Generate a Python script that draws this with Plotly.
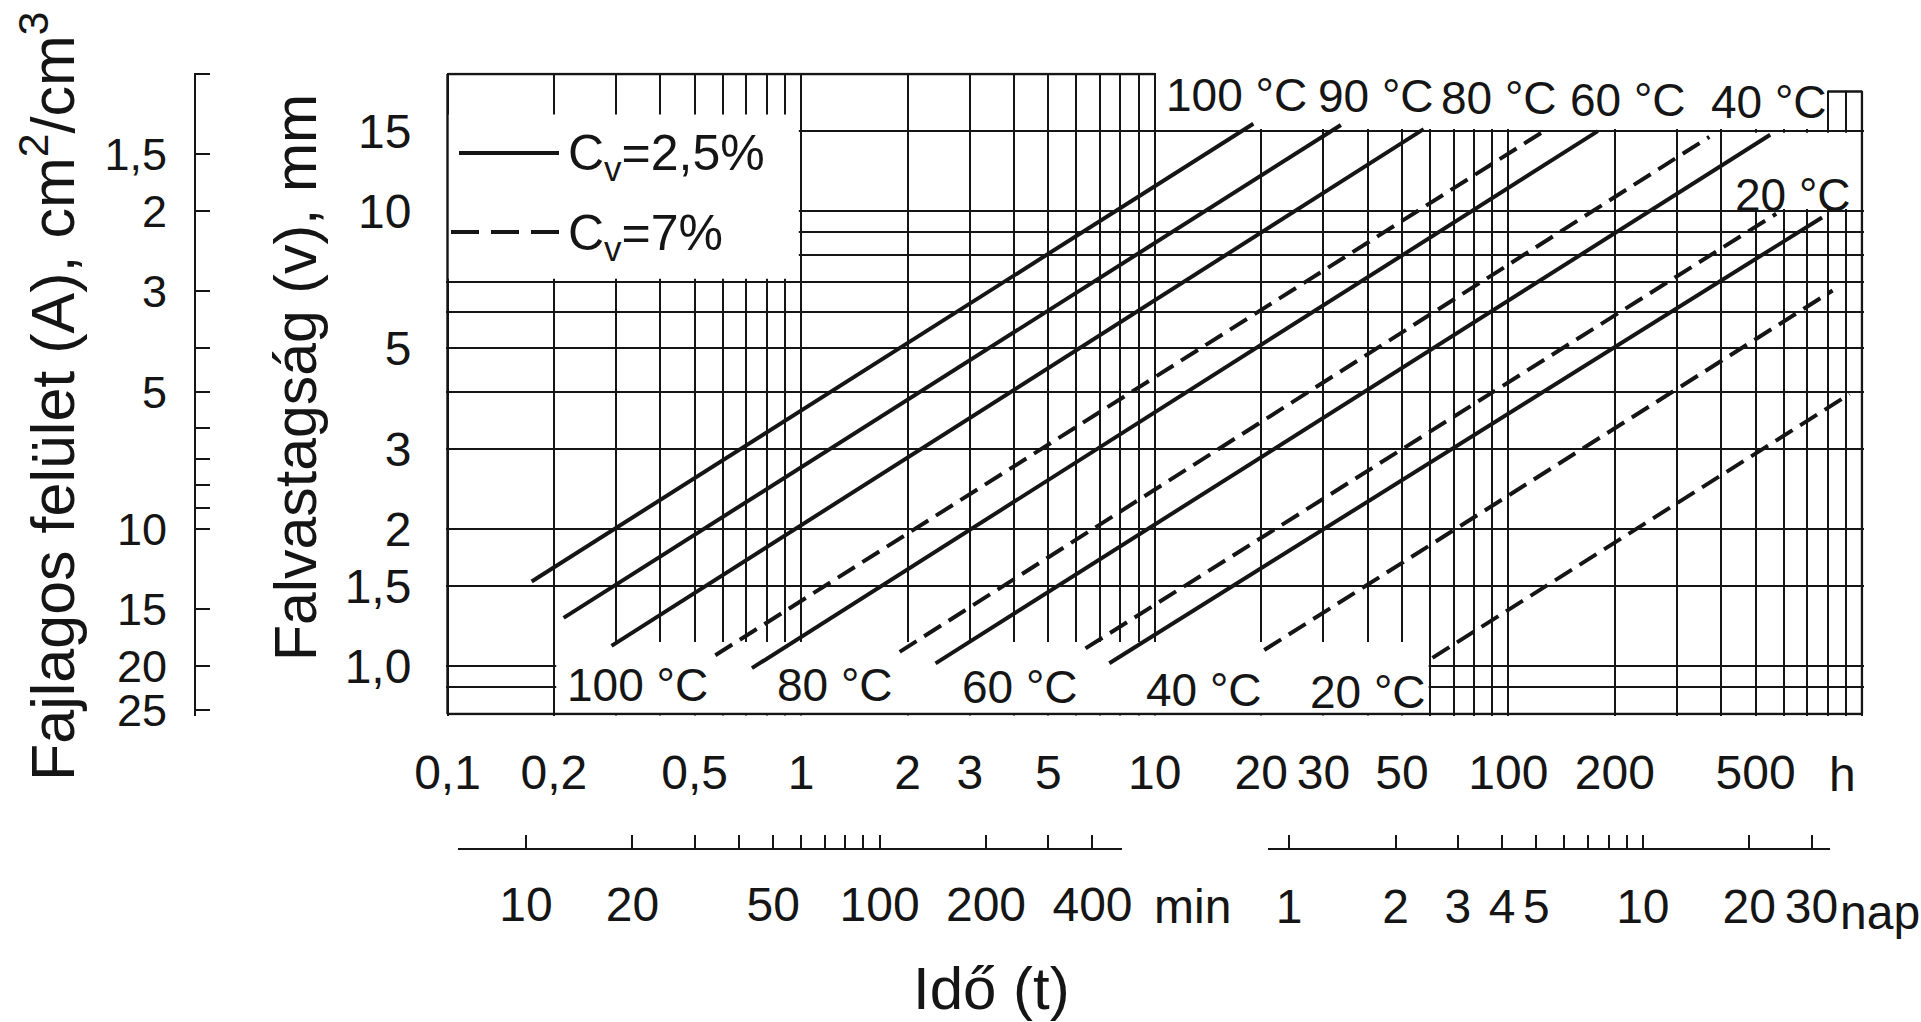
import numpy as np
import plotly.graph_objects as go

# ---------------------------------------------------------------- data
# Wall thickness v (mm) reached after time t (h).  On log-log paper every
# curve is a straight segment, given here by its two end points.
temps_cv25 = ["100 °C", "90 °C", "80 °C", "60 °C", "40 °C", "20 °C"]
t0_cv25 = [0.173, 0.213, 0.291, 0.726, 2.40, 7.44]
t1_cv25 = [19.0, 33.6, 57.6, 179.0, 550.0, 771.0]
v0_cv25 = [1.535, 1.277, 1.108, 0.990, 1.014, 1.015]
v1_cv25 = [15.55, 15.45, 15.13, 14.98, 14.71, 9.68]

temps_cv7 = ["100 °C", "80 °C", "60 °C", "40 °C", "20 °C"]
t0_cv7 = [0.572, 1.90, 6.37, 20.4, 61.0]
t1_cv7 = [128.8, 370.0, 572.0, 826.0, 922.0]
v0_cv7 = [1.057, 1.075, 1.094, 1.085, 1.043]
v1_cv7 = [15.14, 14.55, 9.86, 6.69, 3.96]

# time axis (hours)
t_major = [0.1, 0.2, 0.5, 1, 2, 3, 5, 10, 20, 30, 50, 100, 200, 500]
t_major_text = ["0,1", "0,2", "0,5", "1", "2", "3", "5", "10", "20", "30",
                "50", "100", "200", "500"]
# thickness axis (mm)
v_major = [1.0, 1.5, 2, 3, 5, 10, 15]
v_major_text = ["1,0", "1,5", "2", "3", "5", "10", "15"]
v_minor = [0.9, 4, 6, 7, 8, 9]
# specific surface axis (cm2/cm3)
a_major = [1.5, 2, 3, 5, 10, 15, 20, 25]
a_major_text = ["1,5", "2", "3", "5", "10", "15", "20", "25"]
a_minor = [1, 4, 6, 7, 8, 9]
# auxiliary time scales
min_major = [10, 20, 50, 100, 200, 400]
min_minor = [30, 40, 60, 70, 80, 90, 300]
nap_major = [1, 2, 3, 4, 5, 10, 20, 30]
nap_minor = [6, 7, 8, 9]

# ---------------------------------------------------------------- geometry
W, H = 1921, 1022          # design canvas; the page fills the window
FRAME_L, FRAME_R, FRAME_T, FRAME_B = 447.5, 1862.0, 74.0, 714.0
T_LO, T_HI = 0.1, 1000.0
V_LO, V_HI = 0.785, 20.0
PAD = 1.5
A_TIMES_V = 20.0          # A (cm2/cm3) * v (mm) for a plate wall
BOX_TOP = 18.3            # small grid tab in the upper right corner
TOP_STEP_T = 10.0         # upper frame runs from T_LO to here

INK = "#151515"
CLEAR = "rgba(0,0,0,0)"
FONT = "Liberation Sans, Arial, sans-serif"
GRID_W = 1.5
LINE_W = 4.0
FRAME_W = 2.4
DASH = "20px,9px"

TICK_SIZE = 48
A_TICK_SIZE = 45
SCALE_SIZE = 48
LABEL_SIZE = 46
LEGEND_SIZE = 50

lt_lo, lt_hi = np.log10(T_LO), np.log10(T_HI)
lv_lo, lv_hi = np.log10(V_LO), np.log10(V_HI)
x_ppd = (FRAME_R - FRAME_L) / (lt_hi - lt_lo)
y_ppd = (FRAME_B - FRAME_T) / (lv_hi - lv_lo)
x_range = [lt_lo - PAD / x_ppd, lt_hi + PAD / x_ppd]
y_range = [lv_lo - PAD / y_ppd, lv_hi + PAD / y_ppd]
x_domain = [(FRAME_L - PAD) / W, (FRAME_R + PAD) / W]
y_domain = [1 - (FRAME_B + PAD) / H, 1 - (FRAME_T - PAD) / H]


def fx(p):
    return p / W


def fy(p):
    return 1 - p / H


def log_hours_at(px):
    return lt_lo + (px - FRAME_L) / x_ppd


fig = go.Figure()

# ---------------------------------------------------------------- blank areas
# white patches that keep the grid out of the legend and label areas
blank_t0 = [TOP_STEP_T * 1.01, 790, 405, 0.09, 0.203]
blank_t1 = [790, 1010, 1010, 0.985, 59.5]
blank_v0 = [15.15, BOX_TOP * 1.004, 10.1, 7.1, 0.77]
blank_v1 = [21, 21, 14.85, 16.3, 1.13]
for a, b, c, d in zip(blank_t0, blank_t1, blank_v0, blank_v1):
    fig.add_trace(go.Scatter(
        x=[a, b, b, a, a], y=[c, c, d, d, c], mode="lines", fill="toself",
        fillcolor="white", line=dict(width=0, color="white"),
        hoverinfo="skip", showlegend=False))

# ---------------------------------------------------------------- frame
frame_x = [[T_LO, T_LO], [T_LO, T_HI], [T_HI, T_HI], [T_LO, TOP_STEP_T], [800, T_HI]]
frame_y = [[V_LO, V_HI], [V_LO, V_LO], [V_LO, BOX_TOP], [V_HI, V_HI], [BOX_TOP, BOX_TOP]]
for fxs, fys in zip(frame_x, frame_y):
    fig.add_trace(go.Scatter(x=fxs, y=fys, mode="lines",
                             line=dict(color=INK, width=FRAME_W),
                             hoverinfo="skip", showlegend=False))

# ---------------------------------------------------------------- curves
for name, a, b, c, d in zip(temps_cv25, t0_cv25, t1_cv25, v0_cv25, v1_cv25):
    fig.add_trace(go.Scatter(x=[a, b], y=[c, d], mode="lines",
                             name=f"Cv=2,5% {name}",
                             line=dict(color=INK, width=LINE_W),
                             showlegend=False))
for name, a, b, c, d in zip(temps_cv7, t0_cv7, t1_cv7, v0_cv7, v1_cv7):
    fig.add_trace(go.Scatter(x=[a, b], y=[c, d], mode="lines",
                             name=f"Cv=7% {name}",
                             line=dict(color=INK, width=LINE_W, dash=DASH),
                             showlegend=False))

# empty traces that carry the auxiliary axes
fig.add_trace(go.Scatter(x=[], y=[], xaxis="x2", yaxis="y3", showlegend=False))
fig.add_trace(go.Scatter(x=[], y=[], xaxis="x3", yaxis="y3", showlegend=False))
fig.add_trace(go.Scatter(x=[], y=[], xaxis="x4", yaxis="y2", showlegend=False))

# ---------------------------------------------------------------- axes
t_minor = [k * 10.0 ** n for n in range(-1, 3) for k in range(1, 10)] + [T_HI]
t_minor = [t for t in t_minor if all(abs(t - m) > 1e-9 for m in t_major)]

grid = dict(showgrid=True, gridcolor=INK, gridwidth=GRID_W)
tick_font = dict(family=FONT, size=TICK_SIZE, color=INK)
a_tick_font = dict(family=FONT, size=A_TICK_SIZE, color=INK)
scale_font = dict(family=FONT, size=SCALE_SIZE, color=INK)

MIN_PX = (458, 1122)
NAP_PX = (1268, 1830)
SCALE_Y = 847

fig.update_layout(
    autosize=True,
    margin=dict(l=0, r=0, t=0, b=0, pad=0, autoexpand=False),
    paper_bgcolor="white", plot_bgcolor="white",
    showlegend=False,
    xaxis=dict(type="log", domain=x_domain, range=x_range, anchor="y",
               tickmode="array", tickvals=t_major, ticktext=t_major_text,
               ticks="", ticklabelstandoff=24, tickfont=tick_font,
               automargin=False,
               zeroline=False, showline=False, **grid,
               minor=dict(tickvals=t_minor, ticks="", **grid)),
    yaxis=dict(type="log", domain=y_domain, range=y_range, anchor="x",
               tickmode="array", tickvals=v_major, ticktext=v_major_text,
               ticks="outside", ticklen=24, tickcolor=CLEAR,
               tickfont=tick_font, automargin=False,
               zeroline=False, showline=False, **grid,
               minor=dict(tickvals=v_minor, ticks="", **grid)),
    # specific surface scale, A = 20 / v
    yaxis2=dict(type="log", domain=y_domain, anchor="x4", side="left",
                range=[np.log10(A_TIMES_V) - y_range[0],
                       np.log10(A_TIMES_V) - y_range[1]],
                tickmode="array", tickvals=a_major, ticktext=a_major_text,
                ticks="inside", ticklen=14, tickwidth=2, tickcolor=INK,
                ticklabelstandoff=18, tickfont=a_tick_font, automargin=False,
                showline=True, linecolor=INK, linewidth=2,
                showgrid=False, zeroline=False,
                minor=dict(tickvals=a_minor, ticks="inside", ticklen=14,
                           tickwidth=2, tickcolor=INK, showgrid=False)),
    xaxis4=dict(domain=[fx(196), fx(197)], anchor="y2", visible=False,
                automargin=False),
    # minutes scale
    xaxis2=dict(type="log", domain=[fx(MIN_PX[0]), fx(MIN_PX[1])], anchor="y3",
                range=[log_hours_at(p) + np.log10(60) for p in MIN_PX],
                tickmode="array", tickvals=min_major,
                ticktext=[str(m) for m in min_major],
                ticks="inside", ticklen=13, tickwidth=2, tickcolor=INK,
                ticklabelstandoff=13, tickfont=scale_font, automargin=False,
                showline=True, linecolor=INK, linewidth=2,
                showgrid=False, zeroline=False,
                minor=dict(tickvals=min_minor, ticks="inside", ticklen=13,
                           tickwidth=2, tickcolor=INK, showgrid=False)),
    # days scale
    xaxis3=dict(type="log", domain=[fx(NAP_PX[0]), fx(NAP_PX[1])], anchor="y3",
                range=[log_hours_at(p) - np.log10(24) for p in NAP_PX],
                tickmode="array", tickvals=nap_major,
                ticktext=[str(d) for d in nap_major],
                ticks="inside", ticklen=13, tickwidth=2, tickcolor=INK,
                ticklabelstandoff=15, tickfont=scale_font, automargin=False,
                showline=True, linecolor=INK, linewidth=2,
                showgrid=False, zeroline=False,
                minor=dict(tickvals=nap_minor, ticks="inside", ticklen=13,
                           tickwidth=2, tickcolor=INK, showgrid=False)),
    yaxis3=dict(domain=[fy(SCALE_Y + 1), fy(SCALE_Y)], anchor="x2",
                visible=False, automargin=False),
)

# ---------------------------------------------------------------- text
ann = []


def text(x, y, s, size, xanchor="center", **kw):
    ann.append(dict(x=fx(x), y=fy(y), xref="paper", yref="paper", text=s,
                    showarrow=False, xanchor=xanchor, yanchor="middle",
                    font=dict(family=FONT, size=size, color=INK), **kw))


# temperature labels at the upper ends (Cv = 2,5 %)
top_lbl_x = [1236, 1376, 1499, 1628, 1769, 1793]
top_lbl_y = [95, 96, 98, 100, 102, 195]
for s, x, y in zip(temps_cv25, top_lbl_x, top_lbl_y):
    text(x, y, s, LABEL_SIZE)

# temperature labels at the lower ends (Cv = 7 %)
bot_lbl_x = [637, 835, 1020, 1204, 1368]
bot_lbl_y = [685, 685, 687, 690, 692]
for s, x, y in zip(temps_cv7, bot_lbl_x, bot_lbl_y):
    text(x, y, s, LABEL_SIZE)

# units of the time scales
text(1842, 774, "h", TICK_SIZE)
text(1192, 906, "min", SCALE_SIZE)
text(1880, 912, "nap", SCALE_SIZE)
text(991, 988, "Idő (t)", 60)

# axis titles
text(296, 378, "Falvastagság (v), mm", 59, textangle=-90)
text(48, 396, "Fajlagos felület (A), cm<sup>2</sup>/cm<sup>3</sup>", 61,
     textangle=-90)

# legend
text(566, 157, "C<sub>v</sub>=2,5%", LEGEND_SIZE, xanchor="left")
text(566, 236, "C<sub>v</sub>=7%", LEGEND_SIZE, xanchor="left")
fig.update_layout(annotations=ann)

fig.add_shape(type="line", xref="paper", yref="paper",
              x0=fx(459), x1=fx(559), y0=fy(153), y1=fy(153),
              line=dict(color=INK, width=LINE_W))
fig.add_shape(type="line", xref="paper", yref="paper",
              x0=fx(451), x1=fx(559), y0=fy(232), y1=fy(232),
              line=dict(color=INK, width=LINE_W, dash="28px,12px"))

fig.write_html("out.html", config={"displayModeBar": False})
